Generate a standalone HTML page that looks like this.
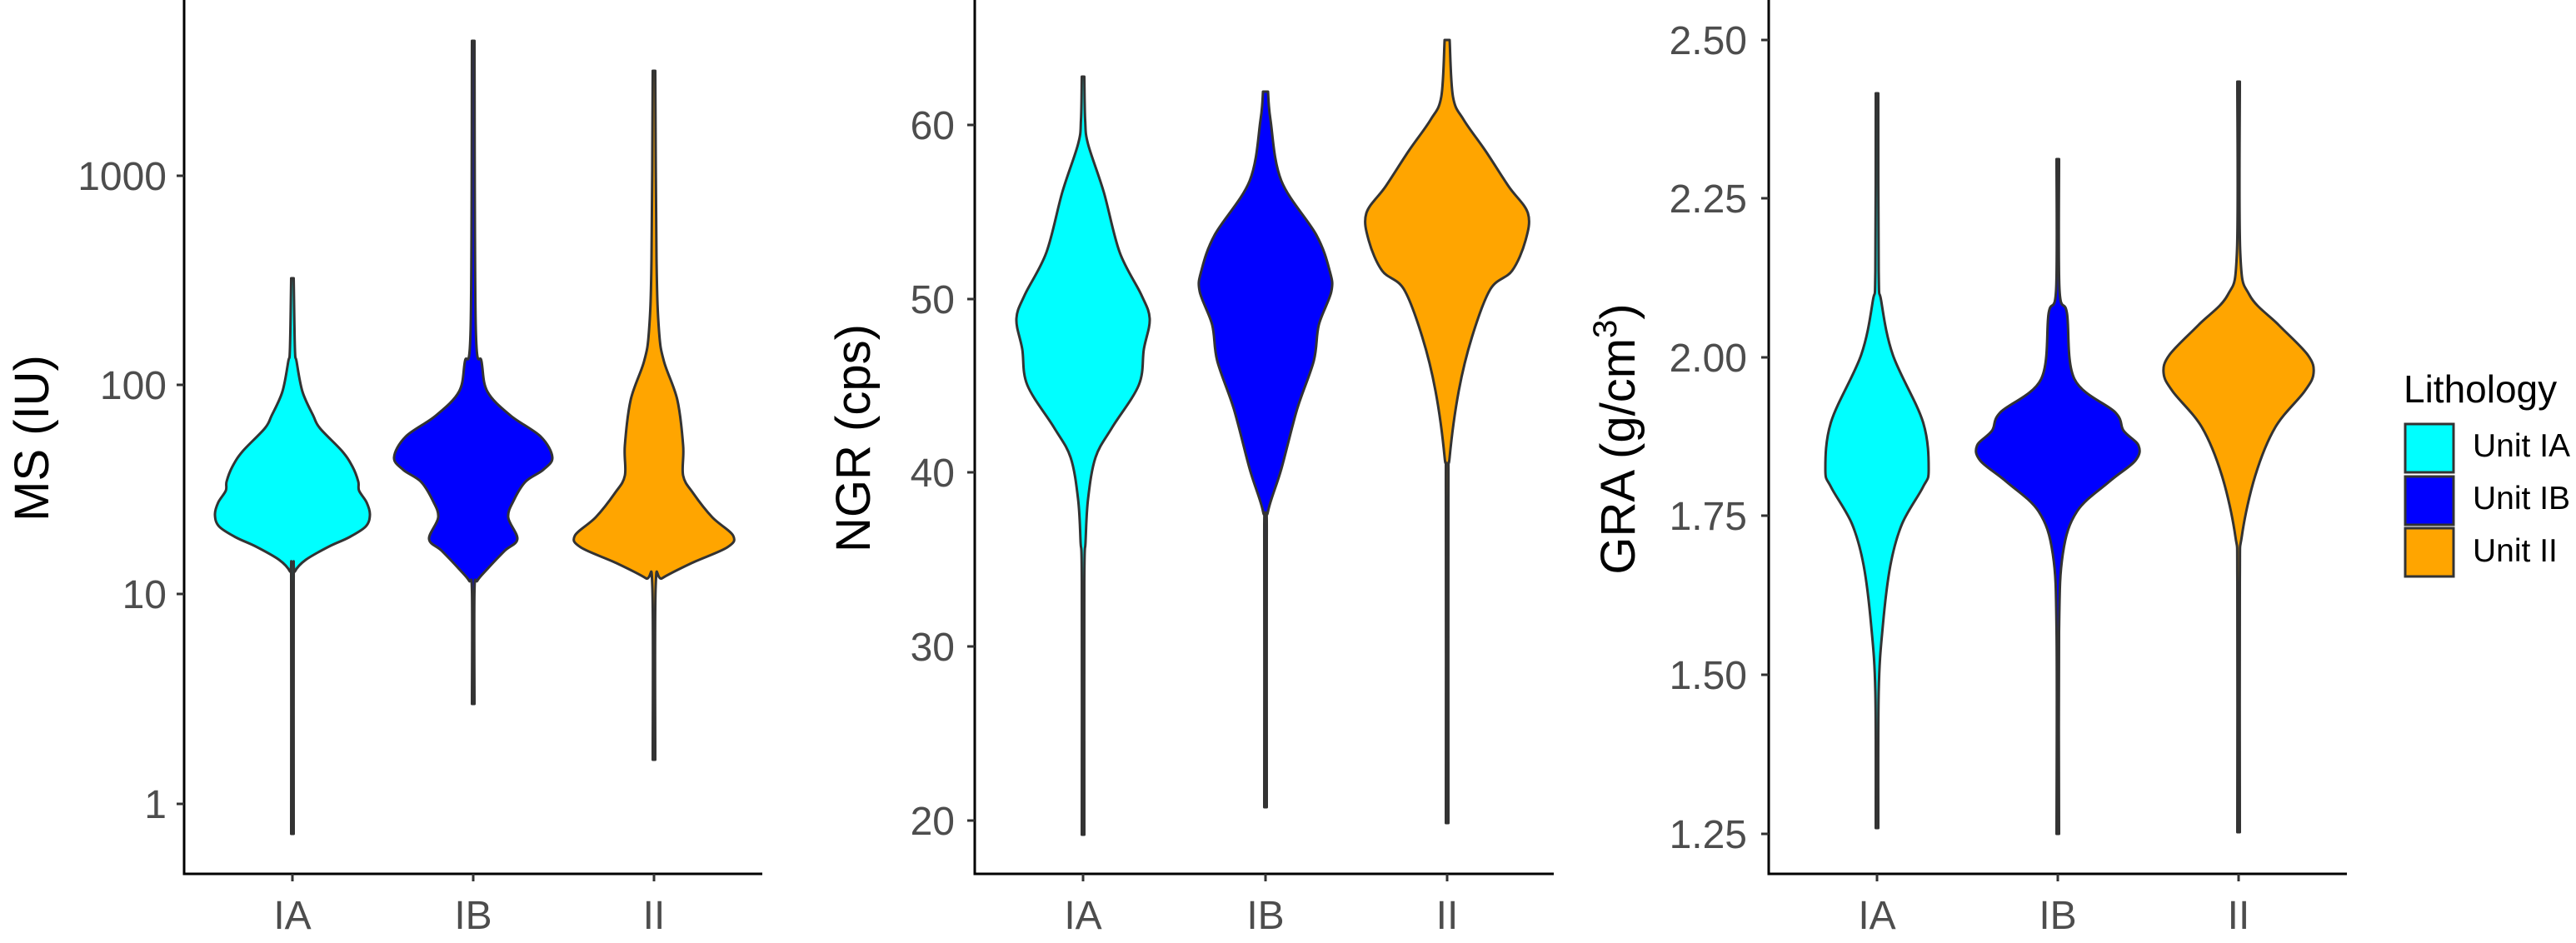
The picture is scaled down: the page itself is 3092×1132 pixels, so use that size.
<!DOCTYPE html>
<html><head><meta charset="utf-8"><style>
html,body{margin:0;padding:0;background:#fff;}
svg{display:block;}
text{font-family:"Liberation Sans",Arial,sans-serif;}
</style></head><body>
<svg id="s" width="3092" height="1132" viewBox="0 0 3092 1132" xmlns="http://www.w3.org/2000/svg">
<rect width="3092" height="1132" fill="#fff"/>
<g id="v"></g>
<!-- axes -->
<g stroke="#000" stroke-width="3" fill="none">
<path d="M221,0 V1049 H915"/>
<path d="M1170,0 V1049 H1865"/>
<path d="M2123,0 V1049 H2817"/>
</g>
<g stroke="#333" stroke-width="3">
<!-- panel1 y ticks -->
<line x1="212" y1="211" x2="221" y2="211"/><line x1="212" y1="462" x2="221" y2="462"/>
<line x1="212" y1="713" x2="221" y2="713"/><line x1="212" y1="965" x2="221" y2="965"/>
<line x1="351" y1="1049" x2="351" y2="1058"/><line x1="568" y1="1049" x2="568" y2="1058"/><line x1="785" y1="1049" x2="785" y2="1058"/>
<!-- panel2 -->
<line x1="1161" y1="150" x2="1170" y2="150"/><line x1="1161" y1="359" x2="1170" y2="359"/>
<line x1="1161" y1="567" x2="1170" y2="567"/><line x1="1161" y1="776" x2="1170" y2="776"/><line x1="1161" y1="985" x2="1170" y2="985"/>
<line x1="1300" y1="1049" x2="1300" y2="1058"/><line x1="1519" y1="1049" x2="1519" y2="1058"/><line x1="1737" y1="1049" x2="1737" y2="1058"/>
<!-- panel3 -->
<line x1="2114" y1="48" x2="2123" y2="48"/><line x1="2114" y1="238" x2="2123" y2="238"/>
<line x1="2114" y1="429" x2="2123" y2="429"/><line x1="2114" y1="619" x2="2123" y2="619"/>
<line x1="2114" y1="810" x2="2123" y2="810"/><line x1="2114" y1="1001" x2="2123" y2="1001"/>
<line x1="2253" y1="1049" x2="2253" y2="1058"/><line x1="2470" y1="1049" x2="2470" y2="1058"/><line x1="2687" y1="1049" x2="2687" y2="1058"/>
</g>
<g fill="#4d4d4d" font-size="48" text-anchor="end">
<text x="200" y="228">1000</text><text x="200" y="479">100</text><text x="200" y="730">10</text><text x="200" y="982">1</text>
<text x="1146" y="167">60</text><text x="1146" y="376">50</text><text x="1146" y="584">40</text><text x="1146" y="793">30</text><text x="1146" y="1002">20</text>
<text x="2097" y="65">2.50</text><text x="2097" y="255">2.25</text><text x="2097" y="446">2.00</text><text x="2097" y="636">1.75</text><text x="2097" y="827">1.50</text><text x="2097" y="1018">1.25</text>
</g>
<g fill="#4d4d4d" font-size="48" text-anchor="middle">
<text x="351" y="1115">IA</text><text x="568" y="1115">IB</text><text x="785" y="1115">II</text>
<text x="1300" y="1115">IA</text><text x="1519" y="1115">IB</text><text x="1737" y="1115">II</text>
<text x="2253" y="1115">IA</text><text x="2470" y="1115">IB</text><text x="2687" y="1115">II</text>
</g>
<g fill="#000" font-size="58" text-anchor="middle">
<text transform="translate(58,526) rotate(-90)">MS (IU)</text>
<text transform="translate(1044,526) rotate(-90)">NGR (cps)</text>
<text transform="translate(1962,527) rotate(-90)">GRA (g/cm<tspan font-size="40" dy="-22">3</tspan><tspan dy="22">)</tspan></text>
</g>
<text x="2885" y="483" font-size="46" fill="#000">Lithology</text>
<g stroke="#333" stroke-width="3">
<rect x="2887" y="509" width="58" height="58" fill="#00ffff"/>
<rect x="2887" y="572" width="58" height="58" fill="#0000ff"/>
<rect x="2887" y="634" width="58" height="58" fill="#ffa500"/>
</g>
<g font-size="39" fill="#000">
<text x="2968" y="548">Unit IA</text><text x="2968" y="611">Unit IB</text><text x="2968" y="674">Unit II</text>
</g>
</svg>
<script>
var V=[
[351,"#00ffff",[[334,1.5],[419,3],[434,5],[470,12],[499,25],[514,33],[542,60],[560,72],[578,79],[589,80],[603,89],[618,93],[632,88],[645,68],[656,44],[672,16],[686,3],[700,1.5],[1001,1.5]]],
[568,"#0000ff",[[49,1.5],[390,3],[434,10],[470,17],[499,45],[524,81],[549,95],[564,84],[578,63],[600,49],[621,42],[647,53],[661,38],[683,17],[697,5],[710,1.5],[845,1.5]]],
[785,"#ffa500",[[85,1.5],[311,3],[397,6],[434,12],[480,28],[535,35],[571,35],[592,47],[621,70],[643,95],[657,88],[676,45],[694,10],[704,2],[912,1.5]]],
[1300,"#00ffff",[[92,1.5],[144,2.5],[173,6],[231,25],[303,44],[354,70],[383,80],[419,73],[462,67],[513,35],[549,15],[599,6],[650,3],[700,1.5],[1002,1.5]]],
[1519,"#0000ff",[[110,3],[144,6],[217,19],[282,61],[325,77],[350,79],[390,64],[433,58],[491,38],[563,19],[614,3],[650,1.5],[969,1.5]]],
[1737,"#ffa500",[[48,3],[116,7],[144,20],[181,46],[224,74],[256,97],[289,94],[325,78],[347,52],[404,30],[469,14],[549,3],[600,1.5],[988,1.5]]],
[2253,"#00ffff",[[112,1.5],[325,2],[361,5],[426,19],[506,55],[564,62],[585,55],[629,30],[679,16],[751,7],[831,2],[994,1.5]]],
[2470,"#0000ff",[[191,1.5],[347,2],[376,11],[455,20],[495,69],[517,79],[535,97],[553,93],[578,62],[614,23],[665,6],[759,1.5],[1001,1.5]]],
[2687,"#ffa500",[[98,1.5],[303,2],[354,13],[390,48],[426,83],[448,90],[470,79],[513,44],[571,20],[643,4],[700,1.5],[999,1.5]]]
];
function cr(pts){var d="M"+pts[0][0]+","+pts[0][1];for(var i=0;i<pts.length-1;i++){var p0=pts[i-1]||pts[i],p1=pts[i],p2=pts[i+1],p3=pts[i+2]||p2;
var c1x=p1[0]+(p2[0]-p0[0])/6,c1y=p1[1]+(p2[1]-p0[1])/6,c2x=p2[0]-(p3[0]-p1[0])/6,c2y=p2[1]-(p3[1]-p1[1])/6;
d+=" C"+c1x.toFixed(1)+","+c1y.toFixed(1)+" "+c2x.toFixed(1)+","+c2y.toFixed(1)+" "+p2[0]+","+p2[1];}return d;}
var g=document.getElementById("v"),h="";
V.forEach(function(v){var c=v[0],P=v[2];var R=P.map(function(p){return[c+p[1],p[0]]});var L=P.slice().reverse().map(function(p){return[c-p[1],p[0]]});
var d=cr(R)+" L"+L[0][0]+","+L[0][1]+" "+cr(L).slice(1).replace(/^[^C]*/,"")+" Z";
h+='<path d="'+d+'" fill="'+v[1]+'" stroke="#333" stroke-width="3" stroke-linejoin="round"/>';});
g.innerHTML=h;
</script>
</body></html>
